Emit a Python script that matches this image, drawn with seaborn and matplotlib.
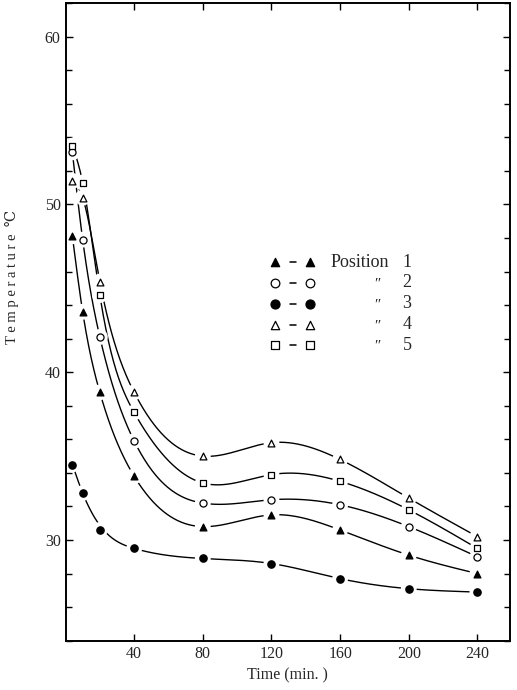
import numpy as np
import pandas as pd
import matplotlib
matplotlib.use("Agg")
import matplotlib.pyplot as plt
import seaborn as sns

# ---- data ----
time_min = [4, 10, 20, 40, 80, 120, 160, 200, 240]
pos1 = [48.1, 43.6, 38.8, 33.8, 30.8, 31.5, 30.6, 29.1, 28.0]   # filled triangle
pos2 = [53.1, 47.9, 42.1, 35.9, 32.2, 32.4, 32.1, 30.8, 29.0]   # open circle
pos3 = [34.5, 32.8, 30.6, 29.5, 28.9, 28.6, 27.7, 27.1, 26.9]   # filled circle
pos4 = [51.4, 50.4, 45.4, 38.8, 35.0, 35.8, 34.8, 32.5, 30.2]   # open triangle
pos5 = [53.5, 51.3, 44.6, 37.6, 33.4, 33.9, 33.5, 31.8, 29.5]   # open square
position_labels = ["1", "2", "3", "4", "5"]
# the hand-drawn fit curve for position 3 does not pass through the 20-min point
curve_skip = [[], [], [2], [], []]
x_ticks = [40, 80, 120, 160, 200, 240]
y_ticks = [30, 40, 50, 60]


def natural_spline(x, y, xs):
    x = np.asarray(x, float); y = np.asarray(y, float)
    n = len(x); h = np.diff(x)
    A = np.zeros((n, n)); r = np.zeros(n)
    A[0, 0] = 1; A[-1, -1] = 1
    for i in range(1, n - 1):
        A[i, i - 1] = h[i - 1]
        A[i, i] = 2 * (h[i - 1] + h[i])
        A[i, i + 1] = h[i]
        r[i] = 3 * ((y[i + 1] - y[i]) / h[i] - (y[i] - y[i - 1]) / h[i - 1])
    c = np.linalg.solve(A, r)
    b = (y[1:] - y[:-1]) / h - h * (2 * c[:-1] + c[1:]) / 3
    d = (c[1:] - c[:-1]) / (3 * h)
    idx = np.clip(np.searchsorted(x, xs) - 1, 0, n - 2)
    dx = xs - x[idx]
    return y[idx] + b[idx] * dx + c[idx] * dx ** 2 + d[idx] * dx ** 3


sns.set_theme(style="ticks")
plt.rcParams["font.family"] = ["Liberation Serif", "DejaVu Serif"]

fig = plt.figure(figsize=(5.17, 6.90), dpi=100)
ax = fig.add_axes([0.1267, 0.0714, 0.8598, 0.9243])

series = [
    (pos1, "^", "black", 24),
    (pos2, "o", "white", 26),
    (pos3, "o", "black", 28),
    (pos4, "^", "white", 24),
    (pos5, "s", "white", 20),
]

xs = np.linspace(time_min[0], time_min[-1], 800)
for (vals, mk, fc, s), skip in zip(series, curve_skip):
    keep = [i for i in range(len(time_min)) if i not in skip]
    ys = natural_spline([time_min[i] for i in keep], [vals[i] for i in keep], xs)
    sns.lineplot(x=xs, y=ys, ax=ax, color="black", lw=1.0,
                 estimator=None, sort=False, zorder=2)

for vals, mk, fc, s in series:
    # white halo to break the curves near each point
    ax.scatter(time_min, vals, marker="o", s=130, c="white",
               edgecolors="none", linewidths=0, zorder=10)
for vals, mk, fc, s in series:
    sns.scatterplot(x=time_min, y=vals, ax=ax, marker=mk, s=s,
                    facecolor=fc, edgecolor="black", linewidth=0.9,
                    zorder=11)

ax.set_xlim(0, 259)
ax.set_ylim(24, 62)
ax.set_xticks(x_ticks)
ax.set_yticks(y_ticks)
ax.set_yticks(np.arange(24, 63, 2), minor=True)
ax.tick_params(which="both", direction="in", top=True, right=True,
               labelsize=11.5, width=1.0, color="black")
ax.tick_params(which="major", length=5)
ax.tick_params(which="minor", length=4)
for sp in ax.spines.values():
    sp.set_visible(True)
    sp.set_linewidth(1.4)
    sp.set_color("black")
    sp.set_zorder(20)

ax.set_xlabel("Time (min. )", fontsize=11.5, labelpad=4)
ax.set_ylabel("T e m p e r a t u r e  ℃", fontsize=10.5)
ax.yaxis.set_label_coords(-0.105, 0.57)

# custom legend
tr = ax.transAxes
def fx(px):
    return (px - 65.5) / 444.5
def fy(py):
    return (640.7 - py) / 637.7

rows_y = [262.3, 283.0, 303.8, 324.5, 345.0]
for (vals, mk, fc, s), lab, py in zip(series, position_labels, rows_y):
    for px in (275, 310):
        ax.scatter([fx(px)], [fy(py)], transform=tr, marker=mk,
                   s=s * 1.5, facecolor=fc, edgecolor="black",
                   linewidth=0.9, zorder=12)
    ax.plot([fx(289.5), fx(295.5)], [fy(py), fy(py)], transform=tr,
            color="black", lw=1.1)
    if lab == "1":
        ax.text(fx(331), fy(py), "Position", transform=tr,
                ha="left", va="center", fontsize=13)
    else:
        ax.text(fx(376), fy(py) - 0.002, "″", transform=tr, ha="center",
                va="center", fontsize=11, style="italic")
    ax.text(fx(407), fy(py), lab, transform=tr, ha="center",
            va="center", fontsize=13)

fig.savefig("out.png", dpi=100)
